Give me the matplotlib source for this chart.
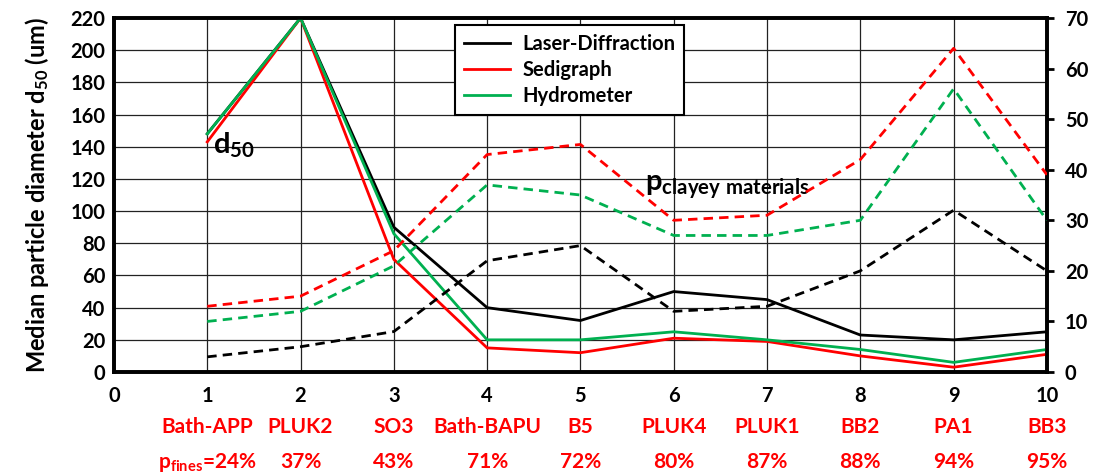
import matplotlib
matplotlib.use("Agg")
import matplotlib.pyplot as plt
import numpy as np

# Sample positions and names
positions = [1, 2, 3, 4, 5, 6, 7, 8, 9, 10]
samples = ["Bath-APP", "PLUK2", "SO3", "Bath-BAPU", "B5", "PLUK4", "PLUK1", "BB2", "PA1", "BB3"]
fines_pct = [24, 37, 43, 71, 72, 80, 87, 88, 94, 95]

# Median particle diameter d50 (um), left axis
d50_laser = [148, 220, 90, 40, 32, 50, 45, 23, 20, 25]
d50_sedigraph = [143, 220, 70, 15, 12, 21, 19, 10, 3, 11]
d50_hydrometer = [148, 220, 86, 20, 20, 25, 20, 14, 6, 14]

# Percentage of clayey materials, right axis
clay_laser = [3, 5, 8, 22, 25, 12, 13, 20, 32, 20]
clay_sedigraph = [13, 15, 24, 43, 45, 30, 31, 42, 64, 39]
clay_hydrometer = [10, 12, 21, 37, 35, 27, 27, 30, 56, 30]

methods = ["Laser-Diffraction", "Sedigraph", "Hydrometer"]
colors = ["#000000", "#ff0000", "#00b050"]

plt.rcParams["font.family"] = ["Lato", "DejaVu Sans"]
plt.rcParams["font.weight"] = "bold"
plt.rcParams["mathtext.fontset"] = "custom"
plt.rcParams["mathtext.rm"] = "Lato:bold"
plt.rcParams["mathtext.it"] = "Lato:bold"
plt.rcParams["mathtext.bf"] = "Lato:bold"

fig = plt.figure(figsize=(11.02, 4.75), dpi=100)
ax = fig.add_axes([0.1034, 0.2168, 0.8466, 0.9621 - 0.2168])
ax2 = ax.twinx()

lw = 2.0
dash = (0, (3.4, 2.2))

for vals, c, name in zip([d50_laser, d50_sedigraph, d50_hydrometer], colors, methods):
    ax.plot(positions, vals, color=c, lw=lw, label=name, solid_joinstyle="miter", zorder=3)

for vals, c in zip([clay_laser, clay_sedigraph, clay_hydrometer], colors):
    ax2.plot(positions, vals, color=c, lw=lw, linestyle=dash, zorder=3)

ax.set_xlim(0, 10)
ax.set_ylim(0, 220)
ax.set_xticks(range(0, 11))
ax.set_yticks(range(0, 221, 20))
ax2.set_ylim(0, 70)
ax2.set_yticks(range(0, 71, 10))

ax.grid(True, color="#222222", lw=0.9)
ax.set_axisbelow(True)

for a in (ax, ax2):
    for s in a.spines.values():
        s.set_linewidth(2.6)
        s.set_color("black")

ax.tick_params(axis="both", labelsize=14.5, length=0, pad=6)
ax.tick_params(axis="x", pad=10)
ax2.tick_params(axis="y", labelsize=14.5, direction="out", length=5, width=2, pad=8)
for lab in ax.get_xticklabels() + ax.get_yticklabels() + ax2.get_yticklabels():
    lab.set_fontweight("bold")

ax.set_ylabel(r"Median particle diameter d$_{50}$ (um)", fontsize=17, fontweight="bold", labelpad=14)

leg = ax.legend(loc="upper left", bbox_to_anchor=(0.3655, 0.980), borderaxespad=0,
                fancybox=False, edgecolor="black", framealpha=1, fontsize=14.5,
                handlelength=2.3, labelspacing=0.3, borderpad=0.45, handletextpad=0.6)
leg.get_frame().set_linewidth(1.5)
for t in leg.get_texts():
    t.set_fontweight("bold")

ax.text(1.06, 136, r"d$_{50}$", fontsize=21, fontweight="bold", va="baseline", ha="left")
ax.text(5.69, 113, r"p$_{\mathrm{clayey\ materials}}$", fontsize=21, fontweight="bold",
        va="baseline", ha="left")

# Sample names and fines percentages beneath the axis
trans = ax.get_xaxis_transform()
for i, (x, name, pct) in enumerate(zip(positions, samples, fines_pct)):
    ax.text(x, -0.155, name, transform=trans, ha="center", va="center",
            color="#ff0000", fontsize=15, fontweight="bold")
    label = rf"p$_{{\mathrm{{fines}}}}$={pct}%" if i == 0 else f"{pct}%"
    ax.text(x, -0.255, label, transform=trans, ha="center", va="center",
            color="#ff0000", fontsize=15, fontweight="bold")

fig.savefig("out.png", dpi=100)
